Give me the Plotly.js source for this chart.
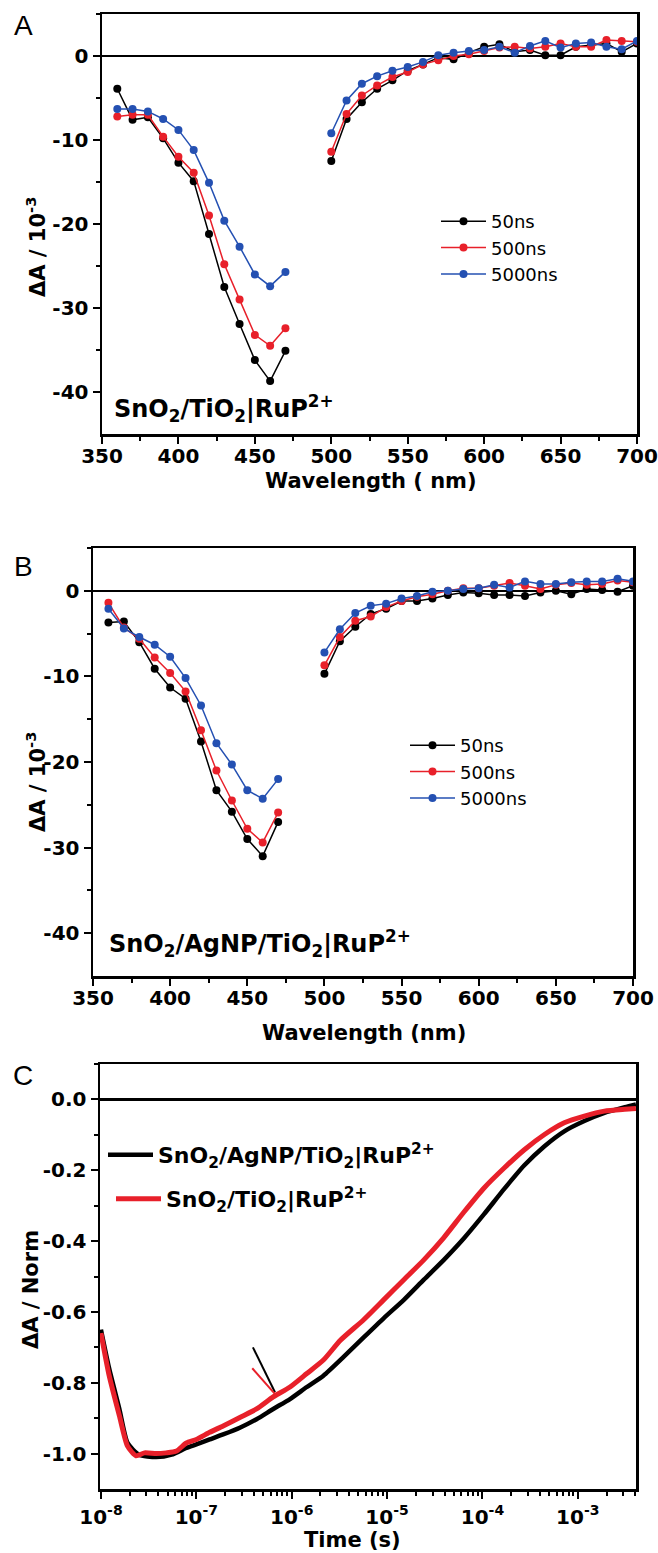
<!DOCTYPE html>
<html><head><meta charset="utf-8">
<script src="https://cdn.plot.ly/plotly-3.0.1.min.js"></script>
<style>html,body{margin:0;padding:0;background:#fff}#chart{width:658px;height:1553px}</style>
</head><body><div id="chart"></div>
<script>
// ---------------- data ----------------
const wlShort = [360,370,380,390,400,410,420,430,440,450,460,470];
const wlLong  = [500,510,520,530,540,550,560,570,580,590,600,610,620,630,640,650,660,670,680,690,700];
const delayNames = ['50ns','500ns','5000ns'];

// Panel A: SnO2/TiO2|RuP2+  (dA / 1e-3)
const A_50ns_short   = [-3.9,-7.6,-7.3,-9.8,-12.7,-14.9,-21.2,-27.5,-31.9,-36.2,-38.7,-35.1];
const A_500ns_short  = [-7.2,-7.0,-7.0,-9.6,-12.0,-13.9,-19.0,-24.8,-29.0,-33.2,-34.5,-32.4];
const A_5000ns_short = [-6.3,-6.3,-6.6,-7.5,-8.8,-11.2,-15.1,-19.6,-22.7,-26.0,-27.4,-25.7];
const A_50ns_long   = [-12.5,-7.5,-5.5,-3.9,-2.9,-1.75,-1.0,-0.2,-0.4,0.4,1.1,1.4,0.5,0.7,0.1,0.1,1.1,1.3,1.5,0.5,1.5];
const A_500ns_long  = [-11.4,-6.9,-4.7,-3.5,-2.5,-1.9,-1.0,-0.5,0.0,0.2,0.6,1.0,1.1,0.9,1.1,1.5,1.1,1.1,1.9,1.8,1.7];
const A_5000ns_long = [-9.2,-5.3,-3.3,-2.4,-1.75,-1.3,-0.7,0.1,0.4,0.6,0.7,1.1,0.4,1.2,1.8,1.0,1.5,1.6,1.1,0.8,1.8];

// Panel B: SnO2/AgNP/TiO2|RuP2+
const B_50ns_short   = [-3.7,-3.6,-6.0,-9.1,-11.3,-12.6,-17.6,-23.3,-25.8,-29.0,-31.0,-27.0];
const B_500ns_short  = [-1.4,-4.3,-5.6,-7.8,-9.6,-11.75,-16.3,-21.0,-24.5,-27.8,-29.4,-25.9];
const B_5000ns_short = [-2.1,-4.4,-5.4,-6.3,-7.7,-10.2,-13.4,-17.8,-20.3,-23.3,-24.3,-22.0];
const B_50ns_long   = [-9.7,-5.9,-4.2,-2.7,-2.1,-1.2,-1.2,-0.9,-0.5,-0.2,-0.3,-0.5,-0.5,-0.6,-0.2,0.0,-0.4,0.2,0.1,-0.1,0.6];
const B_500ns_long  = [-8.7,-5.4,-3.5,-3.0,-1.9,-1.2,-0.7,-0.4,0.0,0.3,0.3,0.6,0.9,0.6,0.2,0.7,0.9,0.7,0.8,1.2,1.0];
const B_5000ns_long = [-7.2,-4.5,-2.6,-1.75,-1.5,-0.9,-0.6,-0.1,0.0,0.2,0.3,0.7,0.4,1.1,0.8,0.8,1.0,1.1,1.1,1.4,1.1];

// Panel C: normalized kinetics
const C_names = ['SnO<sub>2</sub>/AgNP/TiO<sub>2</sub>|RuP<sup>2+</sup>', 'SnO<sub>2</sub>/TiO<sub>2</sub>|RuP<sup>2+</sup>'];
const tAg = [1.0e-8,1.22e-8,1.56e-8,1.9e-8,2.5e-8,3.8e-8,5.5e-8,7.85e-8,1e-7,1.38e-7,1.91e-7,2.86e-7,4.28e-7,6.4e-7,9.6e-7,1.44e-6,2.15e-6,3.5e-6,5.68e-6,9.2e-6,1.5e-5,2.43e-5,3.94e-5,6.4e-5,1.04e-4,1.7e-4,2.75e-4,4.47e-4,7.2e-4,1.17e-3,1.9e-3,3.1e-3,4.07e-3];
const vAg = [-0.65,-0.76,-0.874,-0.97,-1.003,-1.01,-1.003,-0.984,-0.974,-0.96,-0.946,-0.927,-0.903,-0.874,-0.846,-0.812,-0.78,-0.727,-0.672,-0.618,-0.566,-0.509,-0.453,-0.392,-0.324,-0.252,-0.186,-0.132,-0.09,-0.061,-0.038,-0.022,-0.014];
const tTi = [1.0e-8,1.22e-8,1.56e-8,1.9e-8,2.33e-8,2.86e-8,3.8e-8,4.83e-8,6.2e-8,7.85e-8,1e-7,1.38e-7,1.91e-7,2.86e-7,4.28e-7,6.4e-7,9.6e-7,1.44e-6,2.15e-6,3.24e-6,5.68e-6,9.2e-6,1.5e-5,2.43e-5,3.94e-5,6.4e-5,1.04e-4,1.7e-4,2.75e-4,4.47e-4,7.2e-4,1.17e-3,1.9e-3,3.1e-3,4.07e-3];
const vTi = [-0.66,-0.78,-0.893,-0.979,-1.006,-0.998,-1.0,-0.998,-0.993,-0.97,-0.96,-0.94,-0.922,-0.898,-0.874,-0.84,-0.812,-0.774,-0.736,-0.68,-0.622,-0.566,-0.509,-0.453,-0.39,-0.318,-0.25,-0.193,-0.142,-0.099,-0.066,-0.047,-0.033,-0.028,-0.026];
// small pointer strokes in panel C
const ptrAgT = [3.92e-7, 6.68e-7], ptrAgV = [-0.70, -0.827];
const ptrTiT = [3.86e-7, 6.95e-7], ptrTiV = [-0.759, -0.837];

// tick labels
const wlTicks = [350,400,450,500,550,600,650,700];
const wlTickText = ['350','400','450','500','550','600','650','700'];
const dATicks = [0,-10,-20,-30,-40];
const dATickText = ['0','-10','-20','-30','-40'];
const normTicks = [0,-0.2,-0.4,-0.6,-0.8,-1.0];
const normTickText = ['0.0','-0.2','-0.4','-0.6','-0.8','-1.0'];
const timeTicks = [1e-8,1e-7,1e-6,1e-5,1e-4,1e-3];
const timeTickText = ['10<sup>-8</sup>','10<sup>-7</sup>','10<sup>-6</sup>','10<sup>-5</sup>','10<sup>-4</sup>','10<sup>-3</sup>'];

// ---------------- build ----------------
const W = 658, H = 1553;
const FAM = '"DejaVu Sans", "Liberation Sans", sans-serif';
const FAM_A = '"Liberation Sans", Arial, sans-serif';
const colors = ['#000000', '#e8202a', '#2450b2'];
const join = (s, l) => ({x: [...wlShort, null, ...wlLong], y: [...s, null, ...l]});

const traces = [];
const setA = [[A_50ns_short, A_50ns_long],[A_500ns_short, A_500ns_long],[A_5000ns_short, A_5000ns_long]];
const setB = [[B_50ns_short, B_50ns_long],[B_500ns_short, B_500ns_long],[B_5000ns_short, B_5000ns_long]];
setA.forEach((p, i) => {
  const d = join(p[0], p[1]);
  traces.push({x: d.x, y: d.y, xaxis: 'x', yaxis: 'y', type: 'scatter', mode: 'lines+markers', name: delayNames[i],
    legend: 'legend', line: {color: colors[i], width: 1.5}, marker: {color: colors[i], size: 8}});
});
setB.forEach((p, i) => {
  const d = join(p[0], p[1]);
  traces.push({x: d.x, y: d.y, xaxis: 'x2', yaxis: 'y2', type: 'scatter', mode: 'lines+markers', name: delayNames[i],
    legend: 'legend2', line: {color: colors[i], width: 1.5}, marker: {color: colors[i], size: 8}});
});
traces.push({x: tAg, y: vAg, xaxis: 'x3', yaxis: 'y3', type: 'scatter', mode: 'lines', name: C_names[0],
  legend: 'legend3', line: {color: '#000', width: 4.5, shape: 'spline', smoothing: 0.6}});
traces.push({x: tTi, y: vTi, xaxis: 'x3', yaxis: 'y3', type: 'scatter', mode: 'lines', name: C_names[1],
  legend: 'legend4', line: {color: '#e8202a', width: 5, shape: 'spline', smoothing: 0.6}});
traces.push({x: ptrAgT, y: ptrAgV, xaxis: 'x3', yaxis: 'y3', type: 'scatter', mode: 'lines', showlegend: false,
  line: {color: '#000', width: 2}});
traces.push({x: ptrTiT, y: ptrTiV, xaxis: 'x3', yaxis: 'y3', type: 'scatter', mode: 'lines', showlegend: false,
  line: {color: '#e8202a', width: 2}});

const tickFont = {family: FAM, size: 20, color: '#000', weight: 'bold'};
const LW = 2.5;
function range(a, b, s) { const r = []; for (let v = a; v <= b + 1e-9; v += s) r.push(+v.toFixed(4)); return r; }
const wlMinor = range(375, 675, 50);
const dAMinor = [5,-5,-15,-25,-35];
const normMinor = [0.1,-0.1,-0.3,-0.5,-0.7,-0.9];
const timeMinor = [];
for (let e = -8; e <= -3; e++) for (let m = 2; m <= 9; m++) { const v = m * Math.pow(10, e); if (v < 4.1e-3) timeMinor.push(v); }

function xMain(dom, anchor, rng, tv, tt, minorVals, extra) {
  return Object.assign({domain: dom, anchor: anchor, range: rng, tickmode: 'array', tickvals: tv, ticktext: tt,
    ticks: 'outside', ticklen: 7, tickwidth: 2, tickcolor: '#000',
    minor: {tickmode: 'array', tickvals: minorVals, ticks: 'outside', ticklen: 4, tickwidth: 2, tickcolor: '#000', showgrid: false},
    showline: true, linewidth: LW, linecolor: '#000', mirror: true, showgrid: false, zeroline: false,
    tickfont: tickFont, fixedrange: true}, extra || {});
}
function xTop(over, anchor, rng, tv, minorVals, extra) {
  return Object.assign({overlaying: over, side: 'top', anchor: anchor, range: rng, tickmode: 'array', tickvals: tv,
    ticks: 'inside', ticklen: 8, tickwidth: 2, tickcolor: '#000',
    minor: {tickmode: 'array', tickvals: minorVals, ticks: 'inside', ticklen: 5, tickwidth: 2, tickcolor: '#000', showgrid: false},
    showticklabels: false, showline: false, showgrid: false, zeroline: false, fixedrange: true}, extra || {});
}
function yMain(dom, anchor, rng, tv, tt, minorVals) {
  return {domain: dom, anchor: anchor, range: rng, tickmode: 'array', tickvals: tv, ticktext: tt,
    ticks: 'outside', ticklen: 7, tickwidth: 2, tickcolor: '#000',
    minor: {tickmode: 'array', tickvals: minorVals, ticks: 'outside', ticklen: 4, tickwidth: 2, tickcolor: '#000', showgrid: false},
    showline: true, linewidth: LW, linecolor: '#000', mirror: true, showgrid: false,
    zeroline: true, zerolinecolor: '#000', zerolinewidth: 2.5, tickfont: tickFont, fixedrange: true};
}
function yRight(over, anchor, rng, tv, minorVals) {
  return {overlaying: over, side: 'right', anchor: anchor, range: rng, tickmode: 'array', tickvals: tv,
    ticks: 'inside', ticklen: 8, tickwidth: 2, tickcolor: '#000',
    minor: {tickmode: 'array', tickvals: minorVals, ticks: 'inside', ticklen: 5, tickwidth: 2, tickcolor: '#000', showgrid: false},
    showticklabels: false, showline: false, showgrid: false, zeroline: false, fixedrange: true};
}

const domA = {x: [102 / W, 637 / W], y: [1 - 434 / H, 1 - 14 / H]};
const domB = {x: [93 / W, 633 / W], y: [1 - 976 / H, 1 - 548 / H]};
const domC = {x: [100 / W, 636 / W], y: [1 - 1489 / H, 1 - 1064 / H]};
const wlRange = [350, 700], dARange = [-45, 5], normRange = [-1.1, 0.1], logRange = [-8.01, -2.39];

const px = v => v / W, py = v => 1 - v / H;
const ann = (x, y, text, size, bold, angle, fam) => ({xref: 'paper', yref: 'paper', x: px(x), y: py(y), text: text, showarrow: false,
  xanchor: 'center', yanchor: 'middle', textangle: angle || 0,
  font: {family: fam || FAM, size: size, color: '#000', weight: bold ? 'bold' : 'normal'}});

const legendBase = {xanchor: 'left', yanchor: 'top', bgcolor: 'rgba(0,0,0,0)', borderwidth: 0, tracegroupgap: 0,
  itemclick: false, itemdoubleclick: false, itemwidth: 45};
const legFont = {family: FAM, size: 18, color: '#000'};
const legFontC = {family: FAM, size: 22, color: '#000', weight: 'bold'};

const xA = xMain(domA.x, 'y', wlRange, wlTicks, wlTickText, wlMinor, {ticklabelstandoff: -5});
const xB = xMain(domB.x, 'y2', wlRange, wlTicks, wlTickText, wlMinor, {ticklabelstandoff: -5});
const xC = xMain(domC.x, 'y3', logRange, timeTicks, timeTickText, timeMinor, {type: 'log', ticklabelstandoff: 1});

const layout = {
  width: W, height: H, margin: {l: 0, r: 0, t: 0, b: 0}, paper_bgcolor: '#fff', plot_bgcolor: '#fff',
  font: {family: FAM, color: '#000'}, showlegend: true, hovermode: false,
  xaxis: xA,
  yaxis: yMain(domA.y, 'x', dARange, dATicks, dATickText, dAMinor),
  xaxis2: xB,
  yaxis2: yMain(domB.y, 'x2', dARange, dATicks, dATickText, dAMinor),
  xaxis3: xC,
  yaxis3: yMain(domC.y, 'x3', normRange, normTicks, normTickText, normMinor),
  xaxis4: xTop('x', 'y', wlRange, wlTicks, wlMinor),
  yaxis4: yRight('y', 'x', dARange, dATicks, dAMinor),
  xaxis5: xTop('x2', 'y2', wlRange, wlTicks, wlMinor),
  yaxis5: yRight('y2', 'x2', dARange, dATicks, dAMinor),
  xaxis6: xTop('x3', 'y3', logRange, timeTicks, timeMinor, {type: 'log'}),
  yaxis6: yRight('y3', 'x3', normRange, normTicks, normMinor),
  legend: Object.assign({}, legendBase, {x: px(436), y: py(203), font: legFont}),
  legend2: Object.assign({}, legendBase, {x: px(405), y: py(727), font: legFont}),
  legend3: Object.assign({}, legendBase, {x: px(103), y: py(1134), font: legFontC}),
  legend4: Object.assign({}, legendBase, {x: px(111), y: py(1178), font: legFontC}),
  annotations: [
    ann(23, 25, 'A', 28, false, 0, FAM_A), ann(23, 566, 'B', 28, false, 0, FAM_A), ann(23, 1075, 'C', 28, false, 0, FAM_A),
    ann(36, 247, '\u0394A / 10<sup>-3</sup>', 21, true, -90),
    ann(36, 782, '\u0394A / 10<sup>-3</sup>', 21, true, -90),
    ann(31, 1290, '\u0394A / Norm', 21, true, -90),
    ann(371, 481, 'Wavelength ( nm)', 21, true),
    ann(364, 1033, 'Wavelength (nm)', 21, true),
    ann(352, 1540, 'Time (s)', 21, true),
    Object.assign(ann(112, 408, 'SnO<sub>2</sub>/TiO<sub>2</sub>|RuP<sup>2+</sup>', 24, true), {xanchor: 'left'}),
    Object.assign(ann(107, 943, 'SnO<sub>2</sub>/AgNP/TiO<sub>2</sub>|RuP<sup>2+</sup>', 24, true), {xanchor: 'left'})
  ]
};

Plotly.newPlot('chart', traces, layout, {staticPlot: true, displayModeBar: false});
</script></body></html>
